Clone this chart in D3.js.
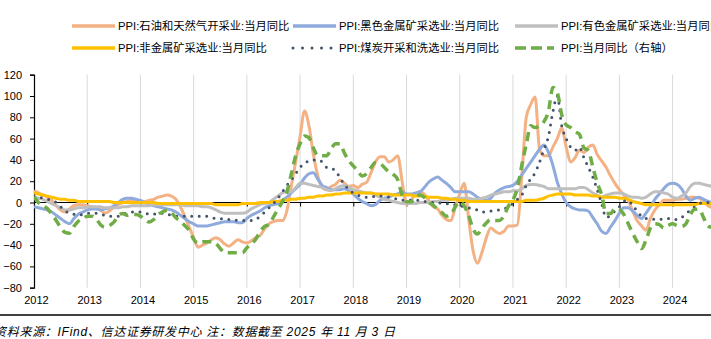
<!DOCTYPE html>
<html><head><meta charset="utf-8">
<script src="https://cdn.jsdelivr.net/npm/d3@7"></script>
<style>
html,body{margin:0;padding:0;background:#fff;overflow:hidden}
svg{display:block}
text{font-family:"Liberation Sans",Arial,"Noto Sans CJK SC",sans-serif}
</style></head><body>
<svg id="c" width="711" height="339"></svg>
<script>
// Monthly data starting 2012-01
const startYear = 2012;
const yearLabels = ["2012","2013","2014","2015","2016","2017","2018","2019","2020","2021","2022","2023","2024"];
const leftTicks = [-80,-60,-40,-20,0,20,40,60,80,100,120];

const oilGas = [
 11,9,7,5,2,-3,-7,-9,-6,-3,-2,-2,
 -3,-4,-5,-7,-10,-8,-4,-2,0,1,2,2,
 0,1,2,3,5,6,7,6,3,-4,-13,-23,
 -33,-42,-40,-38,-35,-33,-35,-39,-41,-38,-35,-37,
 -38,-36,-33,-31,-25,-20,-18,-17,-17,-8,15,38,
 62,86,72,45,25,14,12,15,17,21,18,15,
 16,14,17,19,28,38,43,43,38,40,44,20,
 -2,2,8,10,8,2,-4,-6,-12,-16,-17,-4,
 8,18,-15,-45,-57,-47,-33,-24,-27,-29,-27,-22,
 -22,-21,25,80,92,99,50,44,44,52,60,70,
 52,38,42,49,47,52,54,45,39,33,25,18,
 12,7,2,-8,-17,-22,-26,-15,-7,-2,2,2,
 2,3,3,4,5,5,4,1,-3,-5];
const ferrous = [
 -4,-5,-6,-7,-9,-12,-15,-18,-20,-15,-11,-9,
 -7,-6,-6,-7,-6,-5,-3,0,3,4,4,3,
 2,0,-2,-3,-4,-5,-6,-7,-9,-12,-15,-18,
 -20,-22,-22,-22,-21,-20,-19,-18,-18,-18,-19,-19,
 -15,-12,-10,-8,-5,-3,-2,-1,2,5,9,13,
 17,23,27,28,22,16,14,12,12,12,13,11,
 8,4,1,-1,-3,-2,2,4,5,7,8,10,
 8,8,9,10,14,19,22,24,21,18,14,10,
 10,10,10,8,5,3,2,4,9,12,14,15,
 16,20,26,32,38,44,50,54,47,35,19,8,
 0,-4,-6,-7,-7,-8,-14,-20,-27,-29,-23,-17,
 -10,-5,-5,-8,-12,-15,-10,-4,3,8,13,17,
 18,17,13,6,2,4,5,3,1,0];
const nonFerrous = [
 5,4,3,1,-1,-3,-5,-7,-7,-6,-5,-5,
 -4,-4,-4,-4,-5,-5,-5,-5,-4,-4,-3,-3,
 -3,-3,-3,-2,-2,-2,-2,-2,-2,-2,-3,-3,
 -3,-3,-4,-4,-5,-7,-9,-10,-10,-10,-10,-10,
 -9,-6,-4,-2,-1,0,3,6,9,10,10,14,
 18,18,17,16,15,14,12,11,13,15,16,14,
 12,11,10,9,9,7,5,3,2,1,0,-1,
 -1,-1,-1,0,0,0,1,1,2,2,3,4,
 4,4,4,3,3,4,5,7,8,9,10,10,
 11,11,13,16,17,17,16,15,13,13,13,13,
 13,13,13,14,14,12,9,7,5,7,8,9,
 9,8,6,5,5,4,5,8,10,10,9,8,
 5,4,6,9,15,18,18,17,16,15];
const nonMetal = [
 9,8,7,6,5,4,3,3,2,2,1,1,
 1,1,1,1,1,1,0,0,0,0,0,0,
 0,0,0,0,-1,-1,-1,-1,-1,-1,-1,-1,
 -1,-1,-1,-1,-1,-2,-2,-2,-2,-2,-2,-1,
 -1,-1,-1,0,0,0,1,1,2,2,3,3,
 4,4,5,5,6,6,7,7,8,8,9,9,
 9,9,9,9,9,8,8,8,8,7,7,7,
 7,7,6,6,6,5,5,5,4,4,3,3,
 2,2,1,1,1,1,1,1,1,1,1,1,
 1,1,1,2,2,2,3,4,6,7,8,8,
 8,8,7,7,7,7,6,6,5,5,5,5,
 4,4,3,1,0,-1,-2,-2,-2,-2,-2,-2,
 -2,-2,-2,-2,-2,-2,-1,-1,-1,-1];
const coal = [
 6,5,4,3,2,0,-4,-8,-10,-11,-12,-11,
 -10,-10,-10,-11,-12,-13,-13,-13,-11,-10,-9,-9,
 -9,-10,-11,-11,-10,-10,-11,-12,-13,-13,-13,-13,
 -13,-13,-13,-13,-14,-15,-15,-16,-16,-16,-17,-17,
 -17,-17,-16,-13,-9,-5,-1,4,10,16,21,27,
 33,37,39,40,40,38,33,32,30,23,17,12,
 9,7,6,5,5,6,6,6,5,4,3,2,
 3,2,2,2,1,1,0,0,-1,-1,-2,-2,
 -3,-4,-5,-6,-7,-9,-9,-8,-7,-7,-6,-4,
 -1,3,7,16,22,28,38,50,62,85,100,72,
 60,52,49,52,42,33,24,12,-1,-14,-12,-8,
 -4,1,2,-3,-8,-13,-15,-15,-16,-16,-15,-15,
 -16,-16,-14,-11,-7,-4,-1,0,0,-2];
// PPI overall YoY (right axis, %)
const ppiTotal = [
 0.7,0.0,-0.3,-0.7,-1.4,-2.1,-2.9,-3.5,-3.6,-2.8,-2.2,-1.9,
 -1.6,-1.6,-1.9,-2.6,-2.9,-2.7,-2.3,-1.6,-1.3,-1.5,-1.4,-1.4,
 -1.6,-2.0,-2.3,-2.0,-1.4,-1.1,-0.9,-1.2,-1.8,-2.2,-2.7,-3.3,
 -4.3,-4.8,-4.6,-4.6,-4.6,-4.8,-5.4,-5.9,-5.9,-5.9,-5.9,-5.9,
 -5.3,-4.9,-4.3,-3.4,-2.8,-2.6,-1.7,-0.8,0.1,1.2,3.3,5.5,
 6.9,7.8,7.6,6.4,5.5,5.5,5.5,6.3,6.9,6.9,5.8,4.9,
 4.3,3.7,3.1,3.4,4.1,4.7,4.6,4.1,3.6,3.3,2.7,0.9,
 0.1,0.1,0.4,0.9,0.6,0.0,-0.3,-0.8,-1.2,-1.6,-1.4,-0.5,
 0.1,-0.4,-1.5,-3.1,-3.7,-3.0,-2.4,-2.0,-2.1,-2.1,-1.5,-0.4,
 0.3,1.7,4.4,6.8,9.0,8.8,9.0,9.5,10.7,13.5,12.9,10.3,
 9.1,8.8,8.3,8.0,6.4,6.1,4.2,2.3,0.9,-1.3,-1.3,-0.7,
 -0.8,-1.4,-2.5,-3.6,-4.6,-5.4,-4.4,-3.0,-2.5,-2.6,-3.0,-2.7,
 -2.5,-2.7,-2.8,-2.5,-1.4,-0.8,-0.8,-1.8,-2.8,-2.9];

const seriesNames = ["PPI:石油和天然气开采业:当月同比","PPI:黑色金属矿采选业:当月同比","PPI:有色金属矿采选业:当月同比",
 "PPI:非金属矿采选业:当月同比","PPI:煤炭开采和洗选业:当月同比","PPI:当月同比（右轴）"];
const sourceText = "资料来源：IFind、信达证券研发中心 注：数据截至 2025 年 11 月 3 日";

const svg = d3.select("#c");
const x = d3.scaleLinear().domain([0,144]).range([34,672.6]);
const y = d3.scaleLinear().domain([-80,120]).range([287.7,74.7]);
const y2 = d3.scaleLinear().domain([-10,15]).range([287.7,74.7]);

// gridlines
svg.append("g").selectAll("line").data(d3.range(1,13)).join("line")
  .attr("x1",d=>x(d*12)).attr("x2",d=>x(d*12))
  .attr("y1",y(120)).attr("y2",y(-80))
  .attr("stroke","#d9d9d9").attr("stroke-width",1);

// zero line with ticks
svg.append("g").attr("transform",`translate(0,${y(0)})`)
  .call(d3.axisBottom(x).tickValues(d3.range(1,13).map(d=>d*12)).tickSize(4).tickFormat(""))
  .call(g=>g.select(".domain").attr("d",`M34,0H711`).attr("stroke","#000").attr("stroke-width",1.2))
  .call(g=>g.selectAll(".tick line").attr("stroke","#000"));

// left axis
svg.append("g").attr("transform","translate(34,0)")
  .call(d3.axisLeft(y).tickValues(leftTicks).tickSize(4).tickPadding(8))
  .call(g=>g.select(".domain").attr("stroke","#000").attr("stroke-width",1.2))
  .call(g=>g.selectAll(".tick line").attr("stroke","#000"))
  .call(g=>g.selectAll("text").attr("font-size",11).attr("fill","#000")
     .attr("font-family",'"Liberation Sans",Arial,sans-serif'));

// year labels
svg.append("g").selectAll("text").data(yearLabels).join("text")
  .attr("x",(d,i)=>x(i*12)+2.5).attr("y",304)
  .attr("text-anchor","middle").attr("font-size",11).attr("fill","#000")
  .text(d=>d);

const styles = [
 {data:oilGas, color:"#F4B183", w:3, dash:null, sc:y},
 {data:ferrous, color:"#8FAADC", w:3, dash:null, sc:y},
 {data:nonFerrous, color:"#BFBFBF", w:3, dash:null, sc:y},
 {data:nonMetal, color:"#FFC000", w:3, dash:null, sc:y},
 {data:coal, color:"#44546A", w:3, dash:"0,7.5", cap:"round", sc:y},
 {data:ppiTotal, color:"#70AD47", w:3.5, dash:"9,6", sc:y2}
];

const clip = svg.append("clipPath").attr("id","pc").append("rect")
  .attr("x",34).attr("y",60).attr("width",700).attr("height",240);
const plot = svg.append("g").attr("clip-path","url(#pc)");
styles.forEach(s=>{
  const line = d3.line().x((d,i)=>x(i)).y(d=>s.sc(d)).curve(d3.curveMonotoneX);
  plot.append("path").datum(s.data).attr("d",line)
    .attr("fill","none").attr("stroke",s.color).attr("stroke-width",s.w)
    .attr("stroke-linejoin","round")
    .attr("stroke-linecap",s.cap||"butt")
    .attr("stroke-dasharray",s.dash);
});

// legend
const legPos = [[72,26],[293,26],[515,26],[72,48],[293,48],[515,48]];
const leg = svg.append("g");
styles.forEach((s,i)=>{
  const [lx,ly] = legPos[i];
  const len = i===5?39:43;
  leg.append("line").attr("x1",lx).attr("x2",lx+len).attr("y1",ly).attr("y2",ly)
    .attr("stroke",s.color).attr("stroke-width",i===4?3:3.5)
    .attr("stroke-linecap",s.cap||"butt")
    .attr("stroke-dasharray",i===4?"0,9.5":(i===5?"11,5":null));
  leg.append("text").attr("x",lx+46).attr("y",ly+4.2).attr("font-size",11.3).attr("fill","#000")
    .text(seriesNames[i]);
});

// source
svg.append("line").attr("x1",0).attr("x2",711).attr("y1",315).attr("y2",315)
  .attr("stroke","#000").attr("stroke-width",1.5);
svg.append("text").attr("x",-6).attr("y",336).attr("font-size",12)
  .attr("font-style","italic").attr("fill","#000")
  .attr("font-family",'"Liberation Serif","Noto Sans CJK SC",serif')
  .attr("textLength",401).attr("lengthAdjust","spacing")
  .text(sourceText);
</script>
</body></html>
